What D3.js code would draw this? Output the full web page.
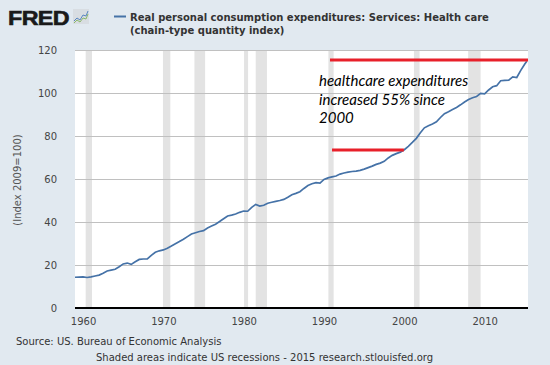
<!DOCTYPE html>
<html lang="en">
<head>
<meta charset="UTF-8"/>
<title>Real personal consumption expenditures: Services: Health care</title>
<script src="https://d3js.org/d3.v7.min.js"></script>
<style>
  body { margin: 0; background: #e1e9f0; }
  svg { display: block; }
</style>
</head>
<body>
<script>
    // Index values (2009=100), roughly half-yearly
    var years = [1959.0, 1959.5, 1960.0, 1960.5, 1961.0, 1961.5, 1962.0, 1962.5, 1963.0, 1963.5,
                 1964.0, 1964.5, 1965.0, 1965.5, 1966.0, 1966.5, 1967.0, 1967.5, 1968.0, 1968.5,
                 1969.0, 1969.5, 1970.0, 1970.5, 1971.0, 1971.5, 1972.0, 1972.5, 1973.0, 1973.5,
                 1974.0, 1974.5, 1975.0, 1975.5, 1976.0, 1976.5, 1977.0, 1977.5, 1978.0, 1978.5,
                 1979.0, 1979.5, 1980.0, 1980.5, 1981.0, 1981.5, 1982.0, 1982.5, 1983.0, 1983.5,
                 1984.0, 1984.5, 1985.0, 1985.5, 1986.0, 1986.5, 1987.0, 1987.5, 1988.0, 1988.5,
                 1989.0, 1989.5, 1990.0, 1990.5, 1991.0, 1991.5, 1992.0, 1992.5, 1993.0, 1993.5,
                 1994.0, 1994.5, 1995.0, 1995.5, 1996.0, 1996.5, 1997.0, 1997.5, 1998.0, 1998.5,
                 1999.0, 1999.5, 2000.0, 2000.5, 2001.0, 2001.5, 2002.0, 2002.5, 2003.0, 2003.5,
                 2004.0, 2004.5, 2005.0, 2005.5, 2006.0, 2006.5, 2007.0, 2007.5, 2008.0, 2008.5,
                 2009.0, 2009.5, 2010.0, 2010.5, 2011.0, 2011.5, 2012.0, 2012.5, 2013.0, 2013.5,
                 2014.0, 2014.5, 2015.0, 2015.25];
    var values = [14.3, 14.4, 14.5, 14.2, 14.5, 14.9, 15.3, 16.2, 17.2, 17.6,
                  18.0, 19.2, 20.5, 20.9, 20.3, 21.5, 22.6, 22.8, 22.8, 24.5,
                  25.9, 26.6, 27.0, 27.8, 28.8, 29.9, 30.9, 32.0, 33.2, 34.4,
                  35.0, 35.6, 36.0, 37.2, 38.1, 39.0, 40.2, 41.5, 42.8, 43.2,
                  43.7, 44.5, 45.1, 45.0, 46.8, 48.2, 47.4, 47.8, 48.7, 49.2,
                  49.6, 50.0, 50.5, 51.5, 52.7, 53.3, 54.1, 55.6, 57.0, 57.8,
                  58.3, 58.1, 59.8, 60.5, 61.0, 61.4, 62.3, 62.8, 63.2, 63.5,
                  63.7, 64.0, 64.6, 65.3, 66.0, 66.8, 67.4, 68.2, 69.8, 71.0,
                  71.8, 72.5, 73.6, 75.2, 77.0, 78.9, 81.5, 83.8, 84.8, 85.6,
                  86.6, 88.6, 90.4, 91.3, 92.3, 93.3, 94.5, 95.8, 97.0, 97.8,
                  98.4, 99.8, 99.6, 101.4, 102.9, 103.4, 105.7, 105.9, 106.0, 107.5,
                  107.2, 110.5, 113.5, 114.8];

    // NBER recessions [start, end] as decimal years
    var recessions = [[1960.33, 1961.12], [1969.95, 1970.87], [1973.87, 1975.2],
                      [1980.05, 1980.55], [1981.5, 1982.9], [1990.55, 1991.2],
                      [2001.2, 2001.9], [2007.95, 2009.5]];

    var xTicks = [1960, 1970, 1980, 1990, 2000, 2010];
    var yTicks = [0, 20, 40, 60, 80, 100, 120];

    // red annotation lines: [x0, x1, level]
    var markers = [[1990.75, 2015.4, 115.3], [1991.0, 1999.95, 73.5]];
    var noteLines = ["healthcare expenditures", "increased 55% since", "2000"];

    var w = 550;
    var h = 365;
    var plotL = 75, plotR = 528, plotT = 50, plotB = 308;

    var svg = d3.select("body")
                .append("svg")
                .attr("width", w)
                .attr("height", h)
                .style("background", "#e1e9f0");

    var xScale = d3.scaleLinear()
                   .domain([1959.0, 2015.4])
                   .range([plotL, plotR]);

    var yScale = d3.scaleLinear()
                   .domain([0, 120])
                   .range([plotB, plotT]);

    // plot background
    svg.append("rect")
       .attr("x", plotL)
       .attr("y", plotT)
       .attr("width", plotR - plotL)
       .attr("height", plotB - plotT)
       .attr("fill", "#ffffff");

    // recession bars
    svg.selectAll("rect.rec")
       .data(recessions)
       .enter()
       .append("rect")
       .attr("class", "rec")
       .attr("x", function(d) { return xScale(d[0]); })
       .attr("width", function(d) { return xScale(d[1]) - xScale(d[0]); })
       .attr("y", plotT)
       .attr("height", plotB - plotT)
       .attr("fill", "#e3e3e3");

    // horizontal grid + y labels
    var yAxis = d3.axisLeft(yScale)
                  .tickValues(yTicks)
                  .tickSize(-(plotR - plotL))
                  .tickPadding(18);

    var gy = svg.append("g")
                .attr("transform", "translate(" + plotL + ",0)")
                .call(yAxis);
    gy.select(".domain").remove();
    gy.selectAll(".tick line").attr("stroke", "#c0c0c0");
    gy.selectAll(".tick text")
      .attr("fill", "#444")
      .style("font-family", "DejaVu Sans")
      .style("font-size", "10px");

    // x axis
    var xAxis = d3.axisBottom(xScale)
                  .tickValues(xTicks)
                  .tickFormat(d3.format("d"))
                  .tickSize(0)
                  .tickPadding(10);

    var gx = svg.append("g")
                .attr("transform", "translate(0," + plotB + ")")
                .call(xAxis);
    gx.select(".domain").remove();
    gx.selectAll(".tick text")
      .attr("fill", "#444")
      .style("font-family", "DejaVu Sans")
      .style("font-size", "10px");

    svg.append("line")
       .attr("x1", plotL)
       .attr("x2", plotR)
       .attr("y1", plotB)
       .attr("y2", plotB)
       .attr("stroke", "#000")
       .attr("stroke-width", 2);

    // series line
    var line = d3.line()
                 .x(function(d, i) { return xScale(years[i]); })
                 .y(function(d) { return yScale(d); });

    svg.append("path")
       .datum(values)
       .attr("d", line)
       .attr("fill", "none")
       .attr("stroke", "#4572a7")
       .attr("stroke-width", 1.7);

    // red annotation lines
    svg.selectAll("line.marker")
       .data(markers)
       .enter()
       .append("line")
       .attr("class", "marker")
       .attr("x1", function(d) { return xScale(d[0]); })
       .attr("x2", function(d) { return xScale(d[1]); })
       .attr("y1", function(d) { return yScale(d[2]); })
       .attr("y2", function(d) { return yScale(d[2]); })
       .attr("stroke", "#e8202a")
       .attr("stroke-width", 3);

    // annotation text
    svg.selectAll("text.note")
       .data(noteLines)
       .enter()
       .append("text")
       .attr("class", "note")
       .attr("x", 319)
       .attr("y", function(d, i) { return 86 + i * 18.5; })
       .style("font-family", "Lato")
       .style("font-style", "italic")
       .style("font-size", "15px")
       .attr("fill", "#000")
       .text(function(d) { return d; });

    // y axis title
    svg.append("text")
       .attr("transform", "rotate(-90)")
       .attr("x", -180)
       .attr("y", 21)
       .attr("text-anchor", "middle")
       .style("font-family", "DejaVu Sans")
       .style("font-size", "10px")
       .attr("fill", "#555")
       .text("(Index 2009=100)");

    // header: logo + legend/title
    svg.append("text")
       .attr("x", 8)
       .attr("y", 24.5)
       .style("font-family", "Liberation Sans")
       .style("font-weight", "bold")
       .style("font-size", "20px")
       .style("letter-spacing", "-0.5px")
       .attr("textLength", 61)
       .attr("lengthAdjust", "spacingAndGlyphs")
       .attr("stroke", "#1a1a1a")
       .attr("stroke-width", 0.6)
       .attr("fill", "#1a1a1a")
       .text("FRED");

    var icon = svg.append("g").attr("transform", "translate(73,9)");
    icon.append("rect")
        .attr("width", 16).attr("height", 15)
        .attr("fill", "#d8dde2");
    icon.append("polyline")
        .attr("points", "1,12 4,9 7,11 10,6 13,7 15,2")
        .attr("fill", "none").attr("stroke", "#5a86c0").attr("stroke-width", 1);
    icon.append("polyline")
        .attr("points", "1,14 4,11 7,13 10,9 13,10 15,5")
        .attr("fill", "none").attr("stroke", "#8cb86a").attr("stroke-width", 1);

    svg.append("line")
       .attr("x1", 114).attr("x2", 126)
       .attr("y1", 16.5).attr("y2", 16.5)
       .attr("stroke", "#4572a7")
       .attr("stroke-width", 2);

    var title = svg.append("text")
                   .style("font-family", "DejaVu Sans")
                   .style("font-weight", "bold")
                   .style("font-size", "10px")
                   .attr("fill", "#333");
    title.append("tspan").attr("x", 130).attr("y", 20.5)
         .text("Real personal consumption expenditures: Services: Health care");
    title.append("tspan").attr("x", 130).attr("y", 34)
         .text("(chain-type quantity index)");

    // footer
    svg.append("text")
       .attr("x", 16)
       .attr("y", 345)
       .style("font-family", "DejaVu Sans")
       .style("font-size", "10px")
       .attr("fill", "#333")
       .text("Source: US. Bureau of Economic Analysis");

    svg.append("text")
       .attr("x", 96)
       .attr("y", 361)
       .style("font-family", "DejaVu Sans")
       .style("font-size", "10px")
       .attr("fill", "#333")
       .text("Shaded areas indicate US recessions - 2015 research.stlouisfed.org");
</script>
</body>
</html>
